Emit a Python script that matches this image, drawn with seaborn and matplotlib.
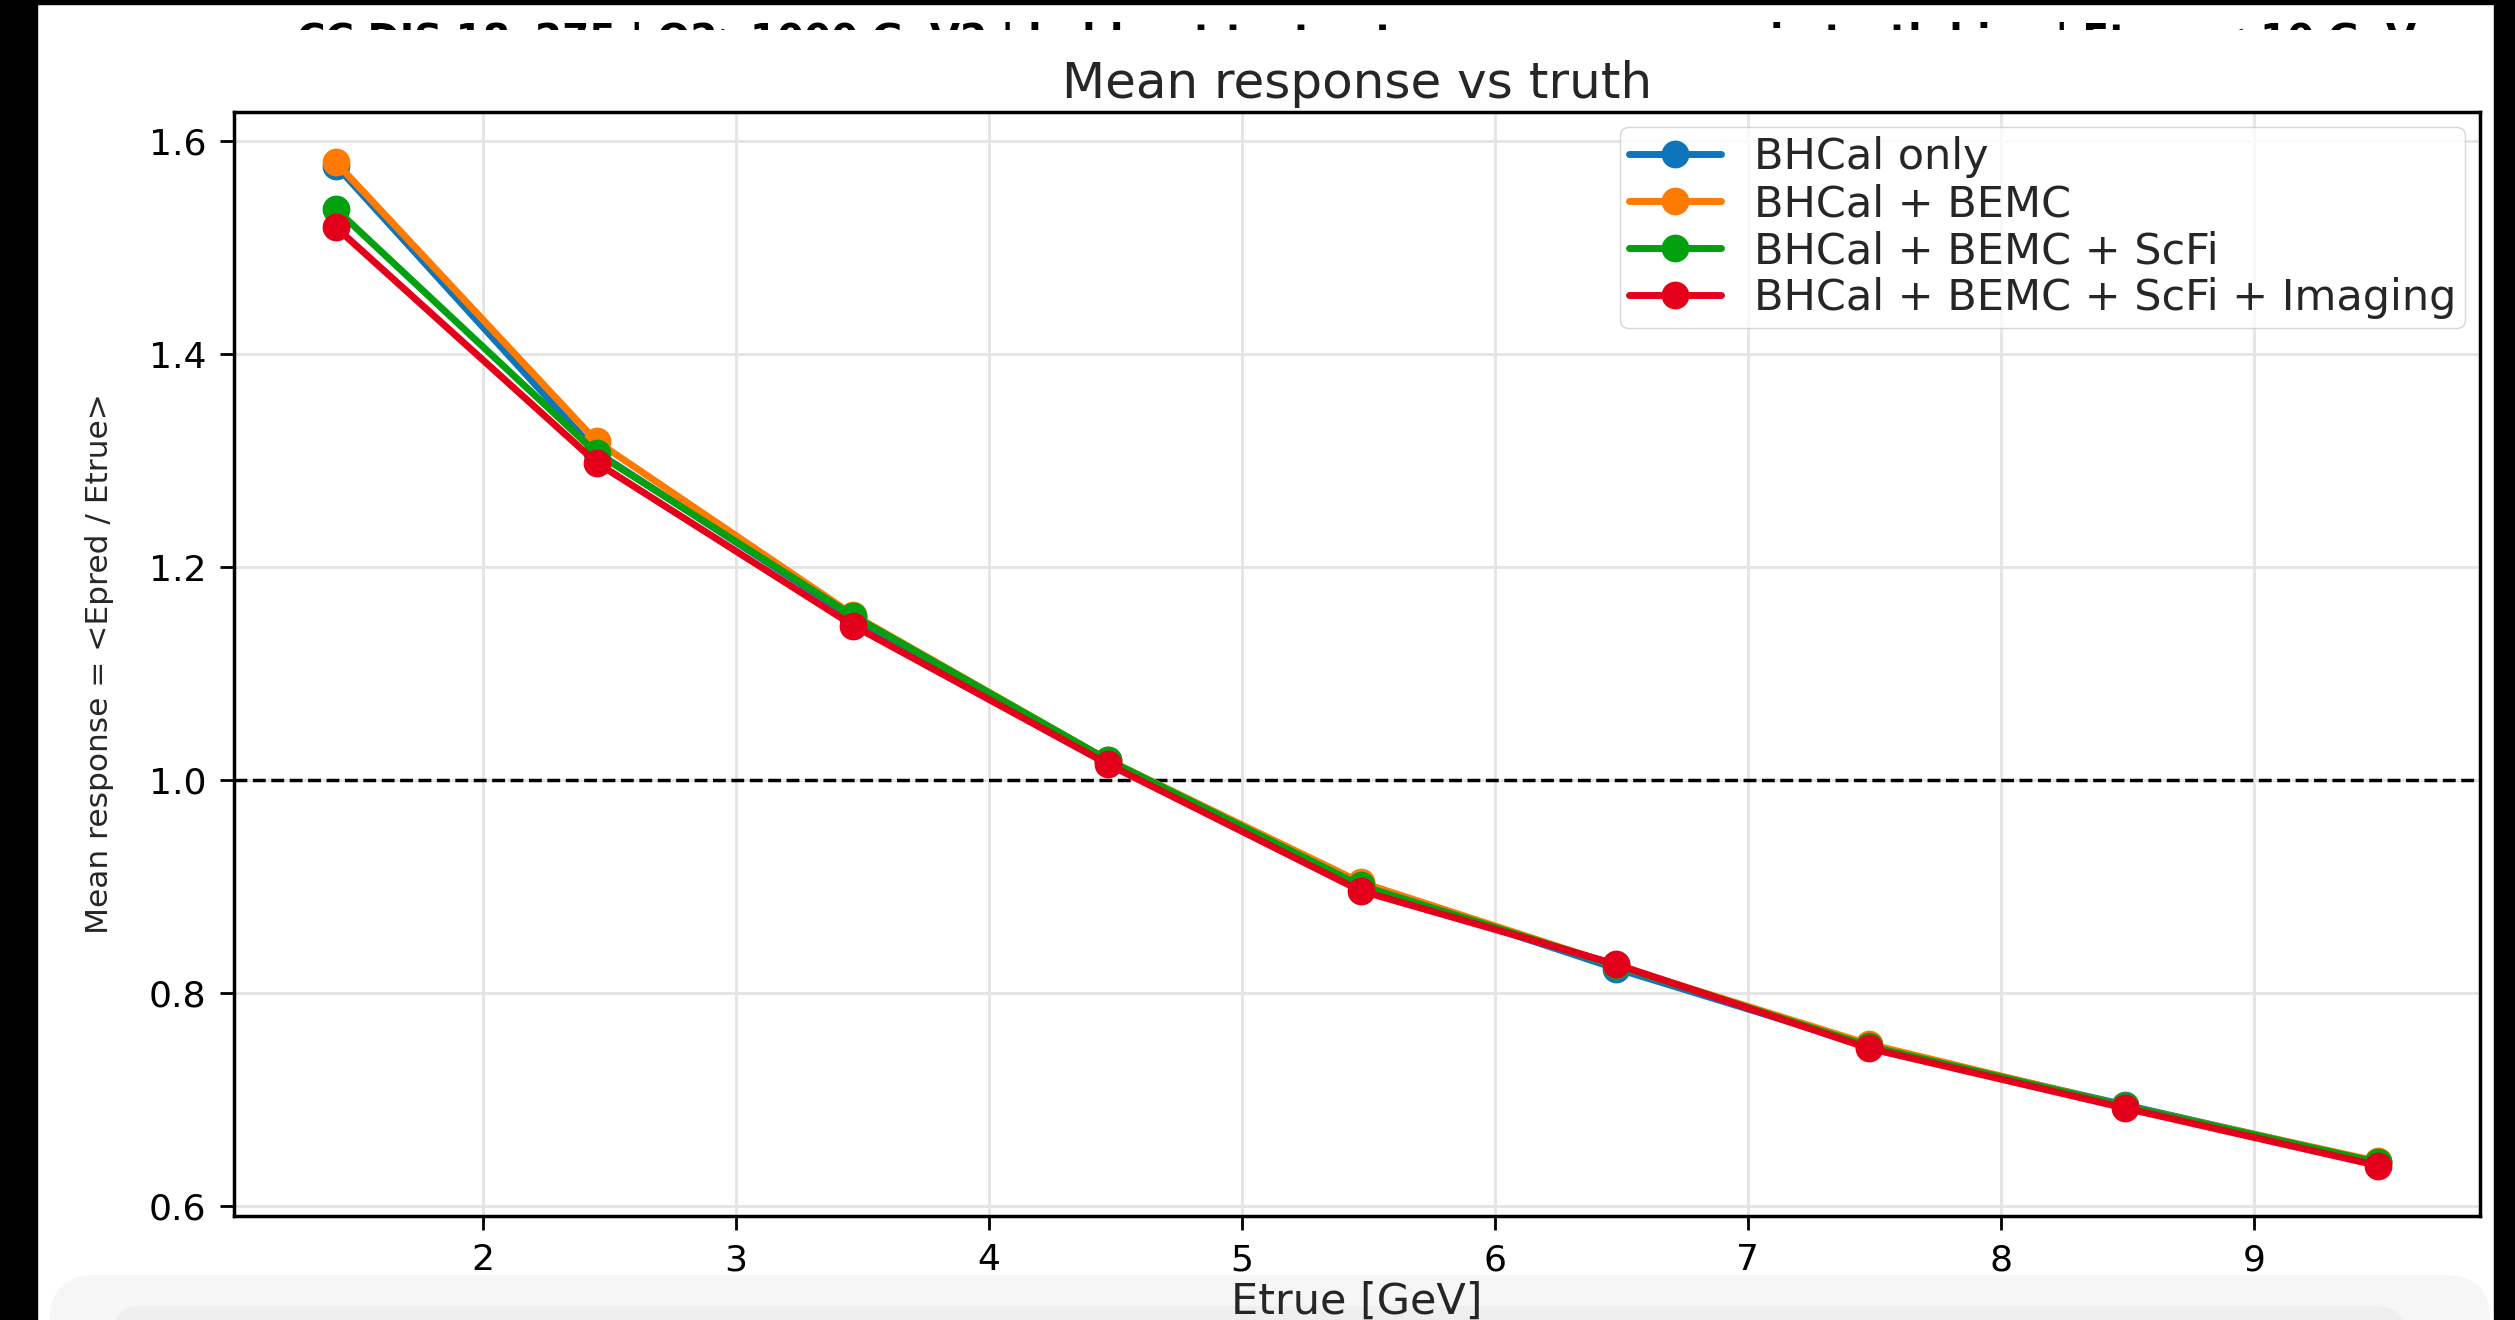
import pandas as pd
import matplotlib.pyplot as plt
import seaborn as sns
from matplotlib.patches import Rectangle, FancyBboxPatch
from matplotlib.transforms import Bbox, TransformedBbox, IdentityTransform

# mean truth energy of each bin [GeV]
etrue = [1.42, 2.45, 3.465, 4.47, 5.47, 6.48, 7.48, 8.49, 9.49]

# mean response <Epred / Etrue> per detector configuration
bhcal_only = [1.577, 1.308, 1.152, 1.018, 0.902, 0.823, 0.750, 0.695, 0.641]
bhcal_bemc = [1.580, 1.318, 1.155, 1.019, 0.904, 0.826, 0.752, 0.694, 0.642]
bhcal_bemc_scfi = [1.536, 1.307, 1.154, 1.019, 0.901, 0.826, 0.750, 0.694, 0.641]
bhcal_bemc_scfi_img = [1.519, 1.298, 1.145, 1.015, 0.896, 0.827, 0.748, 0.692, 0.638]

configs = ['BHCal only', 'BHCal + BEMC', 'BHCal + BEMC + ScFi',
           'BHCal + BEMC + ScFi + Imaging']
colors = ['#0f75bb', '#ff7b00', '#03a010', '#e4001b']

x_ticks = [2, 3, 4, 5, 6, 7, 8, 9]
y_ticks = [0.6, 0.8, 1.0, 1.2, 1.4, 1.6]

top_text = 'CC DIS 18x275 | Q2>1000 GeV2 | held-out test set, mean response in truth bins | Etrue < 10 GeV'

# long-form table for seaborn
rows = []
for name, vals in zip(configs, [bhcal_only, bhcal_bemc, bhcal_bemc_scfi, bhcal_bemc_scfi_img]):
    for e, r in zip(etrue, vals):
        rows.append({'Etrue': e, 'response': r, 'config': name})
df = pd.DataFrame(rows)

sns.set_theme(style='whitegrid', rc={
    'axes.edgecolor': 'black',
    'axes.linewidth': 2.5,
    'grid.color': '#e4e4e4',
    'grid.linewidth': 2,
})
plt.rcParams['font.family'] = ['DejaVu Sans']

fig = plt.figure(figsize=(25.15, 13.2), dpi=100, facecolor='white')
ax = fig.add_axes([0.093, 0.079, 0.893, 0.836])

# screenshot frame: black edges and grey bar at the bottom
px = IdentityTransform()
fig.add_artist(Rectangle((0, 0), 37, 1320, transform=px, color='black', zorder=-2))
fig.add_artist(Rectangle((2494, 0), 30, 1320, transform=px, color='black', zorder=-2))
fig.add_artist(Rectangle((0, 1316), 2515, 10, transform=px, color='black', zorder=-2))
fig.add_artist(FancyBboxPatch((50, -40), 2440, 85, boxstyle='round,pad=0,rounding_size=45',
                              transform=px, facecolor='#f6f6f6', edgecolor='none', zorder=-1))
fig.add_artist(FancyBboxPatch((112, -40), 2294, 54, boxstyle='round,pad=0,rounding_size=30',
                              transform=px, facecolor='#efefef', edgecolor='none', zorder=-1))

# partly hidden heading at the very top (only the tops of the glyphs show)
st = fig.text(1357 / 2515, 1 - 22 / 1320, top_text, ha='center', va='top',
              fontsize=28, fontweight='bold', color='black')
st.set_clip_box(TransformedBbox(Bbox([[0, 1290], [2515, 1298]]), px))
st.set_clip_on(True)

ax.axhline(1.0, color='black', linestyle='--', linewidth=2.5, zorder=1.5)

sns.lineplot(data=df, x='Etrue', y='response', hue='config', hue_order=configs,
             palette=colors, marker='o', markersize=20, markeredgewidth=0,
             linewidth=5, errorbar=None, ax=ax)

ax.set_xticks(x_ticks)
ax.set_yticks(y_ticks)
ax.tick_params(axis='both', bottom=True, left=True, length=10, width=2,
               pad=10, labelsize=26, color='black', labelcolor='black')
for s in ax.spines.values():
    s.set_color('black')
    s.set_linewidth(2.5)

ax.set_title('Mean response vs truth', fontsize=36, pad=10)
ax.set_xlabel('Etrue [GeV]', fontsize=31, labelpad=2)
ax.set_ylabel('Mean response = <Epred / Etrue>', fontsize=22.5, labelpad=25)

sns.move_legend(ax, 'upper right', title=None, fontsize=31, handlelength=2.15,
                handletextpad=0.75, labelspacing=0.12, borderpad=0.2,
                borderaxespad=0.35, frameon=True, edgecolor='#cccccc', framealpha=0.8)

fig.savefig('out.png', dpi=100, facecolor='white')
